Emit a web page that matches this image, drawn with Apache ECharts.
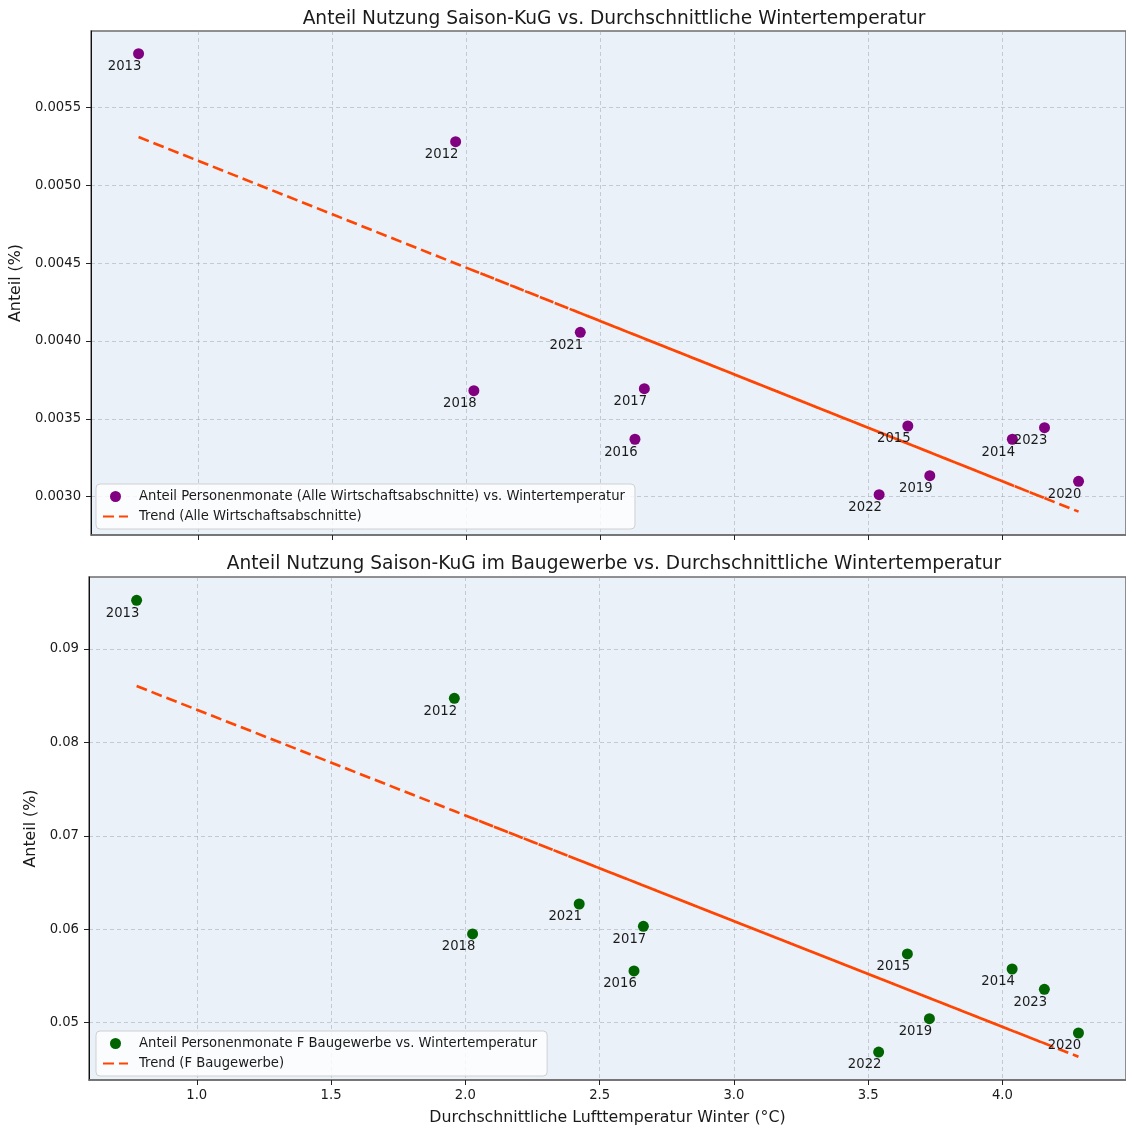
<!DOCTYPE html>
<html>
<head>
<meta charset="utf-8">
<script src="https://cdn.jsdelivr.net/npm/echarts@6/dist/echarts.min.js"></script>
<style>
html,body{margin:0;padding:0;background:#fff;}
#chart{width:1126px;height:1128px;}
</style>
</head>
<body>
<div id="chart"></div>
<script>
// ---- data ----
const years = [2012, 2013, 2014, 2015, 2016, 2017, 2018, 2019, 2020, 2021, 2022, 2023];
const tempWinter = [1.959, 0.776, 4.036, 3.646, 2.628, 2.663, 2.027, 3.728, 4.283, 2.424, 3.539, 4.156];
const shareAll = [0.00528, 0.005845, 0.003369, 0.003454, 0.003369, 0.003694, 0.003681, 0.003135, 0.003099, 0.004056, 0.003013, 0.003443];
const shareBau = [0.08472, 0.09521, 0.05575, 0.05736, 0.05554, 0.06032, 0.0595, 0.05043, 0.0489, 0.06271, 0.04686, 0.05358];
const trendAll = [0.004498, 0.00531, 0.003074, 0.003341, 0.00404, 0.004016, 0.004452, 0.003285, 0.002904, 0.004179, 0.003415, 0.002991];
const trendBau = [0.072655, 0.08604, 0.049153, 0.053566, 0.065085, 0.064689, 0.071885, 0.052638, 0.04636, 0.067393, 0.054777, 0.047795];
// order in which the trend line runs through the years (as in the source table)
const trendOrder = [2013, 2012, 2023, 2018, 2014, 2021, 2015, 2016, 2019, 2017, 2022, 2020];

const xTicks = [1.0, 1.5, 2.0, 2.5, 3.0, 3.5, 4.0];
const yTicksAll = [0.0030, 0.0035, 0.0040, 0.0045, 0.0050, 0.0055];
const yTicksBau = [0.05, 0.06, 0.07, 0.08, 0.09];

const titleTop = 'Anteil Nutzung Saison-KuG vs. Durchschnittliche Wintertemperatur';
const titleBottom = 'Anteil Nutzung Saison-KuG im Baugewerbe vs. Durchschnittliche Wintertemperatur';
const xName = 'Durchschnittliche Lufttemperatur Winter (°C)';
const yName = 'Anteil (%)';
const nameScatterAll = 'Anteil Personenmonate (Alle Wirtschaftsabschnitte) vs. Wintertemperatur';
const nameTrendAll = 'Trend (Alle Wirtschaftsabschnitte)';
const nameScatterBau = 'Anteil Personenmonate F Baugewerbe vs. Wintertemperatur';
const nameTrendBau = 'Trend (F Baugewerbe)';

// ---- chart ----
const FONT = 'DejaVu Sans';
const TXT = '#1a1a1a';
const SMALL = 13.2;
const chart = echarts.init(document.getElementById('chart'), null, {renderer: 'canvas'});

function xAxisCfg(idx, showLabels) {
  return {
    type: 'value', gridIndex: idx, min: 0.5987, max: 4.46,
    name: showLabels ? xName : '', nameLocation: 'middle', nameGap: 30,
    nameTextStyle: {fontFamily: FONT, fontSize: 15.8, color: TXT},
    axisLine: {show: true, onZero: false, lineStyle: {color: '#6e6e6e', width: 1.5}},
    axisTick: {show: true, length: 5, customValues: xTicks, lineStyle: {color: '#222'}},
    axisLabel: {show: showLabels, customValues: xTicks, fontFamily: FONT, fontSize: SMALL, color: TXT, margin: 9,
      formatter: v => v.toFixed(1)},
    splitLine: {show: true, lineStyle: {color: 'rgba(150,155,165,0.45)', type: [4, 3], width: 1}}
  };
}
function yAxisCfg(idx, min, max, ticks, dec, gap) {
  return {
    type: 'value', gridIndex: idx, min: min, max: max,
    name: yName, nameLocation: 'middle', nameGap: gap, nameRotate: 90,
    nameTextStyle: {fontFamily: FONT, fontSize: 15.8, color: TXT},
    axisLine: {show: true, lineStyle: {color: '#111', width: 1}},
    axisTick: {show: true, length: 5, customValues: ticks, lineStyle: {color: '#222'}},
    axisLabel: {show: true, customValues: ticks, fontFamily: FONT, fontSize: SMALL, color: TXT, margin: 10,
      formatter: v => v.toFixed(dec)},
    splitLine: {show: true, lineStyle: {color: 'rgba(150,155,165,0.45)', type: [4, 3], width: 1}}
  };
}
function scatterSeries(name, idx, values, color) {
  return {
    name: name, type: 'scatter', xAxisIndex: idx, yAxisIndex: idx,
    symbol: 'circle', symbolSize: 11, z: 3,
    itemStyle: {color: color, opacity: 1},
    data: years.map((yr, i) => [tempWinter[i], values[i], yr]),
    label: {show: true, position: 'inside', offset: [-14, 13], fontFamily: FONT, fontSize: SMALL, color: TXT,
      formatter: p => String(p.value[2])},
    emphasis: {disabled: true}
  };
}
function trendSeries(name, idx, values) {
  return {
    name: name, type: 'line', xAxisIndex: idx, yAxisIndex: idx,
    symbol: 'none', showSymbol: false, z: 2, animation: false,
    lineStyle: {color: '#FF4500', width: 2.6, type: [11, 5]},
    itemStyle: {color: '#FF4500'},
    data: trendOrder.map(yr => {
      const i = years.indexOf(yr);
      return [tempWinter[i], values[i]];
    }),
    emphasis: {disabled: true}
  };
}
function legendCfg(names, left, top) {
  return {
    data: [
      {name: names[0], icon: 'circle'},
      {name: names[1], itemStyle: {color: 'rgba(0,0,0,0)', borderColor: 'rgba(0,0,0,0)', borderWidth: 0, opacity: 0}}
    ],
    orient: 'vertical', left: left, top: top,
    itemWidth: 25, itemHeight: 11, itemGap: 5,
    padding: [5, 10, 5, 6],
    backgroundColor: 'rgba(255,255,255,0.8)', borderColor: '#d0d0d0', borderWidth: 1, borderRadius: 4,
    textStyle: {fontFamily: FONT, fontSize: SMALL, color: TXT, lineHeight: 15, padding: [0, 0, 0, 6]},
    selectedMode: false
  };
}

const option = {
  animation: false,
  backgroundColor: '#ffffff',
  textStyle: {fontFamily: FONT},
  title: [
    {text: titleTop, left: 609, textAlign: 'center', top: 5,
      textStyle: {fontFamily: FONT, fontSize: 18.6, fontWeight: 'normal', color: TXT}},
    {text: titleBottom, left: 609, textAlign: 'center', top: 550,
      textStyle: {fontFamily: FONT, fontSize: 18.6, fontWeight: 'normal', color: TXT}}
  ],
  grid: [
    {left: 89, top: 31, width: 1041, height: 504, show: true, backgroundColor: '#EAF1F9', borderColor: '#6e6e6e', borderWidth: 1.5},
    {left: 89, top: 577, width: 1041, height: 503, show: true, backgroundColor: '#EAF1F9', borderColor: '#6e6e6e', borderWidth: 1.5}
  ],
  xAxis: [xAxisCfg(0, false), xAxisCfg(1, true)],
  yAxis: [
    yAxisCfg(0, 0.002754, 0.005991, yTicksAll, 4, 61),
    yAxisCfg(1, 0.04387, 0.09771, yTicksBau, 2, 45)
  ],
  legend: [
    legendCfg([nameScatterAll, nameTrendAll], 96, 484),
    legendCfg([nameScatterBau, nameTrendBau], 96, 1031)
  ],
  series: [
    trendSeries(nameTrendAll, 0, trendAll),
    scatterSeries(nameScatterAll, 0, shareAll, '#800080'),
    trendSeries(nameTrendBau, 1, trendBau),
    scatterSeries(nameScatterBau, 1, shareBau, '#006400')
  ]
};
chart.setOption(option);
</script>
</body>
</html>
